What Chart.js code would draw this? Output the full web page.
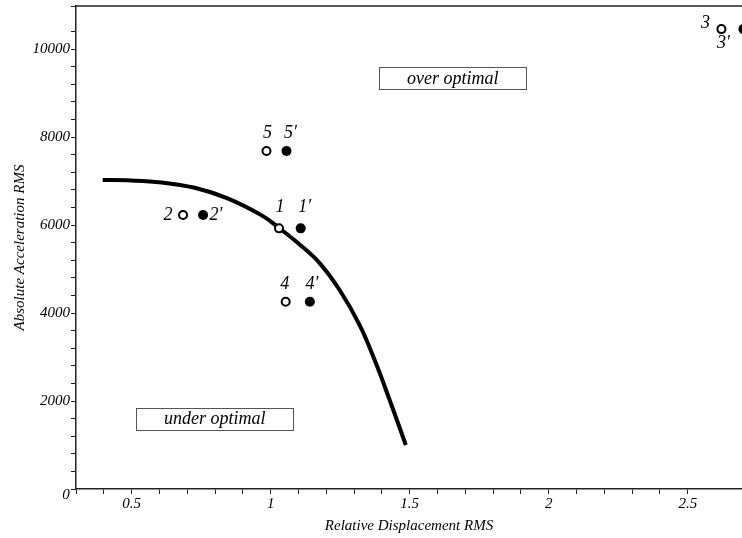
<!DOCTYPE html>
<html>
<head>
<meta charset="utf-8">
<script src="https://cdn.jsdelivr.net/npm/chart.js@4/dist/chart.umd.min.js"></script>
<style>
  body { margin: 0; background: #fff; }
  #wrap { width: 742px; height: 538px; position: relative; }
</style>
</head>
<body>
<div id="wrap"><canvas id="myChart"></canvas></div>
<script>
// optimal curve
var curveX = [0.396, 0.486, 0.608, 0.727, 0.845, 0.968, 1.032, 1.104, 1.176, 1.248, 1.320, 1.374, 1.428, 1.486];
var curveY = [7023, 7016, 6970, 6848, 6607, 6220, 5925, 5560, 5136, 4523, 3727, 2932, 2023, 1000];

// cases 1..5 (open) and 1'..5' (filled)
var openX = [1.030, 0.685, 2.621, 1.054, 0.985];
var openY = [5925, 6227, 10455, 4257, 7682];
var openNames = ['1', '2', '3', '4', '5'];
var filledX = [1.108, 0.757, 2.700, 1.141, 1.057];
var filledY = [5925, 6227, 10455, 4257, 7682];
var filledNames = ['1\u2032', '2\u2032', '3\u2032', '4\u2032', '5\u2032'];

// region notes
var noteText = ['over optimal', 'under optimal'];
var noteX = [1.655, 0.799];
var noteY = [9341, 1602];

var serif = '"Liberation Serif", "DejaVu Serif", serif';

function toPoints(xs, ys) {
    var pts = [];
    for (let i = 0; i < xs.length; i++) pts.push({x: xs[i], y: ys[i]});
    return pts;
}

// label offsets from each point centre (px)
var openOff = [[1, -21], [-15, 0], [-16, -6], [-1, -17], [1, -18]];
var filledOff = [[4, -21], [13, 0], [-20, 14], [2, -17], [4, -18]];

var extras = {
    id: 'extras',
    afterDraw(chart) {
        var ctx = chart.ctx, a = chart.chartArea;
        var xs = chart.scales.x, ys = chart.scales.y;
        ctx.save();
        // top frame line
        ctx.strokeStyle = '#222';
        ctx.lineWidth = 1.5;
        ctx.beginPath();
        ctx.moveTo(a.left, a.top);
        ctx.lineTo(a.right, a.top);
        ctx.stroke();

        // "0" at the origin
        ctx.fillStyle = '#000';
        ctx.font = 'italic 15px ' + serif;
        ctx.textAlign = 'center';
        ctx.textBaseline = 'middle';
        ctx.fillText('0', a.left - 10, a.bottom + 6);

        // region boxes
        ctx.font = 'italic 18px ' + serif;
        for (let i = 0; i < noteText.length; i++) {
            var cx = xs.getPixelForValue(noteX[i]);
            var cy = ys.getPixelForValue(noteY[i]);
            var w = ctx.measureText(noteText[i]).width + 56;
            ctx.fillStyle = '#fff';
            ctx.fillRect(cx - w / 2, cy - 11, w, 22);
            ctx.strokeStyle = '#555';
            ctx.lineWidth = 1;
            ctx.strokeRect(Math.round(cx - w / 2) + 0.5, Math.round(cy - 11) + 0.5, Math.round(w), 22);
            ctx.fillStyle = '#000';
            ctx.fillText(noteText[i], cx, cy + 1);
        }

        // point names
        ctx.font = 'italic 18px ' + serif;
        var sets = [[0, openNames, openOff], [1, filledNames, filledOff]];
        sets.forEach(function (s) {
            var meta = chart.getDatasetMeta(s[0]);
            meta.data.forEach(function (el, i) {
                ctx.fillText(s[1][i], el.x + s[2][i][0], el.y + s[2][i][1]);
            });
        });
        ctx.restore();
    }
};

function tickLabel(v, step) {
    var r = v / step;
    if (Math.abs(r - Math.round(r)) < 1e-6) return String(Math.round(v * 10) / 10);
    return '';
}

new Chart('myChart', {
    type: 'scatter',
    data: {
        datasets: [{
            data: toPoints(openX, openY),
            backgroundColor: '#fff',
            borderColor: '#000',
            pointRadius: 4,
            pointBorderWidth: 2
        }, {
            data: toPoints(filledX, filledY),
            backgroundColor: '#000',
            borderColor: '#000',
            pointRadius: 5,
            pointBorderWidth: 0
        }, {
            type: 'line',
            data: toPoints(curveX, curveY),
            borderColor: '#000',
            borderWidth: 4,
            pointRadius: 0,
            fill: false,
            tension: 0.4
        }]
    },
    options: {
        responsive: true,
        maintainAspectRatio: false,
        animation: false,
        layout: { autoPadding: false, padding: { top: 6, right: 0, left: 0, bottom: 0 } },
        plugins: { legend: { display: false }, tooltip: { enabled: false } },
        scales: {
            x: {
                type: 'linear',
                min: 0.3,
                max: 2.695,
                afterFit: function (s) {
                    s.height = 49;
                    s.paddingLeft = 0;
                    s.paddingRight = 0;
                },
                border: { color: '#222', width: 1.5 },
                grid: { drawOnChartArea: false, tickLength: 5, color: '#222' },
                ticks: {
                    stepSize: 0.1,
                    autoSkip: false,
                    maxRotation: 0,
                    padding: 1,
                    color: '#000',
                    font: { family: serif, size: 15, style: 'italic' },
                    callback: function (v) { return tickLabel(v, 0.5); }
                },
                title: {
                    display: true,
                    text: 'Relative Displacement RMS',
                    color: '#000',
                    font: { family: serif, size: 15, style: 'italic' },
                    padding: { top: 0, bottom: 3 }
                }
            },
            y: {
                type: 'linear',
                min: 0,
                max: 10980,
                afterFit: function (s) {
                    s.width = 76;
                    s.paddingTop = 0;
                    s.paddingBottom = 0;
                },
                border: { color: '#222', width: 1.5 },
                grid: { drawOnChartArea: false, tickLength: 5, color: '#222' },
                ticks: {
                    stepSize: 400,
                    autoSkip: false,
                    padding: 1,
                    color: '#000',
                    font: { family: serif, size: 15, style: 'italic' },
                    callback: function (v) { return (v > 0 && v % 2000 === 0) ? String(v) : ''; }
                },
                title: {
                    display: true,
                    text: 'Absolute Acceleration RMS',
                    color: '#000',
                    font: { family: serif, size: 15, style: 'italic' },
                    padding: { top: 11, bottom: 0 }
                }
            }
        }
    },
    plugins: [extras]
});
</script>
</body>
</html>
